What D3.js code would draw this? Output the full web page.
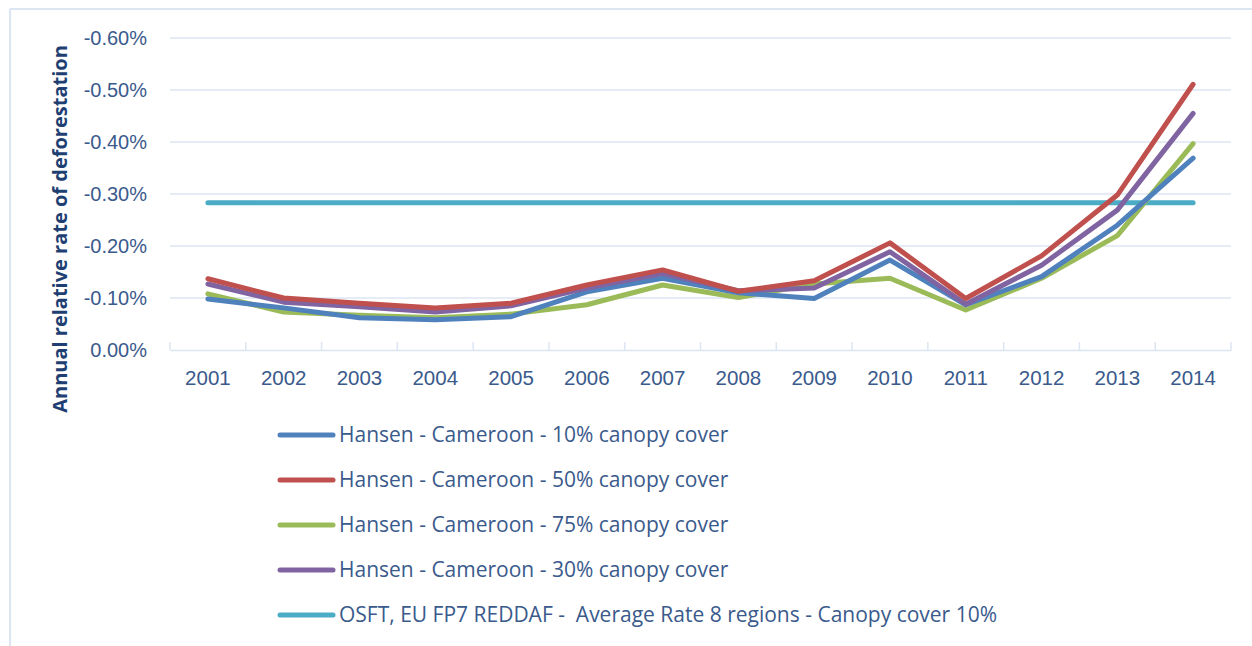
<!DOCTYPE html>
<html>
<head>
<meta charset="utf-8">
<script src="https://cdn.jsdelivr.net/npm/d3@7/dist/d3.min.js"></script>
<style>
  body { margin: 0; background: #fff; }
  svg { display: block; font-family: 'Open Sans', Lato, sans-serif; }
</style>
</head>
<body>
<svg id="chart" width="1252" height="646"></svg>
<script>
// values are annual rates in percent (drawn as negative axis labels)
const years = ['2001','2002','2003','2004','2005','2006','2007','2008','2009','2010','2011','2012','2013','2014'];
const hansen10 = [0.098, 0.081, 0.062, 0.058, 0.064, 0.112, 0.138, 0.110, 0.099, 0.173, 0.087, 0.141, 0.240, 0.369];
const hansen50 = [0.137, 0.100, 0.090, 0.081, 0.090, 0.125, 0.154, 0.113, 0.133, 0.206, 0.099, 0.181, 0.298, 0.511];
const hansen75 = [0.108, 0.073, 0.067, 0.062, 0.069, 0.087, 0.125, 0.101, 0.127, 0.138, 0.077, 0.138, 0.220, 0.397];
const hansen30 = [0.127, 0.092, 0.083, 0.073, 0.085, 0.119, 0.147, 0.114, 0.119, 0.189, 0.088, 0.163, 0.269, 0.455];
const osftAvg = [0.283, 0.283, 0.283, 0.283, 0.283, 0.283, 0.283, 0.283, 0.283, 0.283, 0.283, 0.283, 0.283, 0.283];
const yTicks = [0, 0.1, 0.2, 0.3, 0.4, 0.5, 0.6];

const seriesNames = [
  'Hansen - Cameroon - 10% canopy cover',
  'Hansen - Cameroon - 50% canopy cover',
  'Hansen - Cameroon - 75% canopy cover',
  'Hansen - Cameroon - 30% canopy cover',
  'OSFT, EU FP7 REDDAF -  Average Rate 8 regions - Canopy cover 10%'
];
const seriesColors = ['#4f81bd', '#c0504d', '#9bbb59', '#8064a2', '#4bacc6'];

const series = [hansen10, hansen50, hansen75, hansen30, osftAvg].map((vals, i) => ({
  name: seriesNames[i],
  color: seriesColors[i],
  values: vals
}));
// drawing order: cyan at the back, then green, blue, purple, red on top
const drawOrder = [4, 2, 0, 3, 1];

const textColor = '#3a5a8c';
const gridColor = '#dce6f2';

const svg = d3.select('#chart');

// outer frame (only top and left visible in crop)
svg.append('line').attr('x1', 10).attr('x2', 1252).attr('y1', 9).attr('y2', 9)
  .attr('stroke', gridColor).attr('stroke-width', 2);
svg.append('line').attr('x1', 10).attr('x2', 10).attr('y1', 9).attr('y2', 646)
  .attr('stroke', gridColor).attr('stroke-width', 2);

const plot = { left: 170, right: 1231, top: 38, bottom: 350 };

const x = d3.scaleBand().domain(years).range([plot.left, plot.right]);
const y = d3.scaleLinear().domain([0, 0.6]).range([plot.bottom, plot.top]);

// gridlines
svg.append('g')
  .selectAll('line')
  .data(yTicks.filter(d => d > 0))
  .join('line')
  .attr('x1', plot.left).attr('x2', plot.right)
  .attr('y1', d => y(d)).attr('y2', d => y(d))
  .attr('stroke', gridColor).attr('stroke-width', 1.5);

// y axis labels
const yAxis = svg.append('g')
  .attr('transform', `translate(${plot.left},0)`)
  .call(d3.axisLeft(y).tickValues(yTicks).tickSize(0).tickPadding(23)
    .tickFormat(d => d === 0 ? '0.00%' : '-' + d.toFixed(2) + '%'));
yAxis.select('.domain').remove();
yAxis.selectAll('text')
  .attr('fill', textColor)
  .attr('font-size', '20px');

// x axis with inward ticks at band edges
const xAxis = svg.append('g')
  .attr('transform', `translate(0,${plot.bottom})`)
  .call(d3.axisBottom(x).tickSize(0).tickPadding(20));
xAxis.select('.domain').attr('stroke', gridColor).attr('stroke-width', 1.5);
xAxis.selectAll('text')
  .attr('fill', textColor)
  .attr('font-size', '20.5px');
svg.append('g')
  .selectAll('line')
  .data(years.map(d => x(d)).concat([plot.right]))
  .join('line')
  .attr('x1', d => d).attr('x2', d => d)
  .attr('y1', plot.bottom - 8).attr('y2', plot.bottom)
  .attr('stroke', gridColor).attr('stroke-width', 1.5);

// axis title
svg.append('text')
  .attr('transform', `translate(67,${(45 + 413) / 2}) rotate(-90)`)
  .attr('text-anchor', 'middle')
  .attr('fill', '#1f3f73')
  .attr('font-size', '20px')
  .attr('font-weight', 'bold')
  .text('Annual relative rate of deforestation');

// lines
const line = d3.line()
  .x((d, i) => x(years[i]) + x.bandwidth() / 2)
  .y(d => y(d));

svg.append('g')
  .selectAll('path')
  .data(drawOrder.map(i => series[i]))
  .join('path')
  .attr('d', d => line(d.values))
  .attr('fill', 'none')
  .attr('stroke', d => d.color)
  .attr('stroke-width', 5)
  .attr('stroke-linejoin', 'round')
  .attr('stroke-linecap', 'round');

// legend
const legend = svg.append('g');
const rows = legend.selectAll('g')
  .data(series)
  .join('g')
  .attr('transform', (d, i) => `translate(280,${435 + i * 45})`);
rows.append('line')
  .attr('x1', 0).attr('x2', 53)
  .attr('stroke', d => d.color)
  .attr('stroke-width', 5)
  .attr('stroke-linecap', 'round');
rows.append('text')
  .attr('x', 59)
  .attr('dy', '0.35em')
  .attr('fill', textColor)
  .attr('font-size', '21px')
  .attr('xml:space', 'preserve')
  .style('white-space', 'pre')
  .text(d => d.name);
</script>
</body>
</html>
